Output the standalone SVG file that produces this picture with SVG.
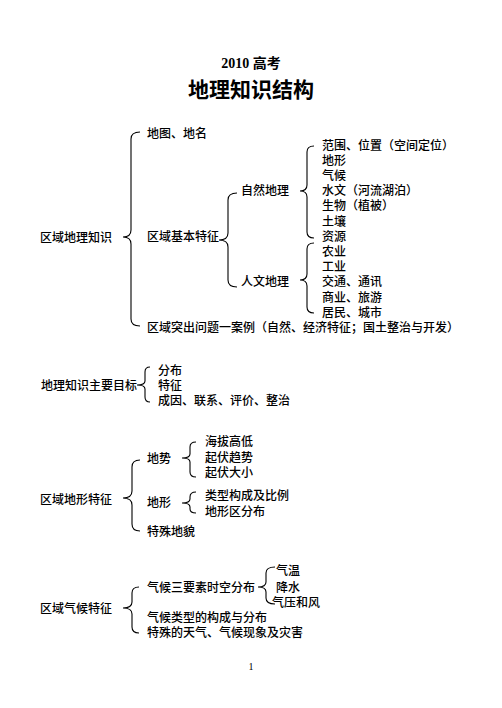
<svg xmlns="http://www.w3.org/2000/svg" width="502" height="708" viewBox="0 0 502 708">
<style>
text{font-family:"Liberation Sans","Noto Sans CJK SC",sans-serif;font-size:12px;font-weight:500;fill:#000}
.t1{font-family:"Liberation Serif","Noto Sans CJK SC",serif;font-size:14px;font-weight:bold}
.t2{font-size:21px;font-weight:bold}
.pn{font-family:"Liberation Serif",serif;font-size:10px;font-weight:normal}
.br{fill:none;stroke:#000;stroke-width:1.1}
</style>
<rect width="502" height="708" fill="#fff"/>
<g id="title">
<text class="t1" x="251" y="68" text-anchor="middle">2010 高考</text>
<text class="t2" x="251" y="97" text-anchor="middle">地理知识结构</text>
</g>
<g id="connectors">
<path class="br" d="M140,132 Q131,132 131,139 L131,230 Q131,237 123,237 Q131,237 131,244 L131,319 Q131,326 140,326"/>
<path class="br" d="M237,193 Q228,193 228,200 L228,233 Q228,240 219,240 Q228,240 228,247 L228,280 Q228,287 237,287"/>
<path class="br" d="M314,146 Q307,146 307,152 L307,185 Q307,191 300,191 Q307,191 307,197 L307,232 Q307,238 314,238"/>
<path class="br" d="M314,243 Q307,243 307,249 L307,274 Q307,280 300,280 Q307,280 307,286 L307,307 Q307,313 314,313"/>
<path class="br" d="M150,367 Q145,367 145,372 L145,381 Q145,385 137,385 Q145,385 145,389 L145,397 Q145,402 150,402"/>
<path class="br" d="M140,460 Q132,460 132,467 L132,491 Q132,498 123,498 Q132,498 132,505 L132,524 Q132,531 140,531"/>
<path class="br" d="M196,442 Q190,442 190,447 L190,454 Q190,458 182,458 Q190,458 190,462 L190,472 Q190,477 196,477"/>
<path class="br" d="M196,492 Q190,492 190,497 L190,499 Q190,503 182,503 Q190,503 190,507 L190,509 Q190,513 196,513"/>
<path class="br" d="M139,587 Q132,587 132,593 L132,602 Q132,608 123,608 Q132,608 132,614 L132,627 Q132,633 139,633"/>
<path class="br" d="M275,567 Q266,567 266,573 L266,582 Q266,587 258,587 Q266,587 266,592 L266,598 Q266,604 275,604"/>
</g>
<g id="n-region">
<text x="40" y="241.5">区域地理知识</text>
<text x="147" y="137.5">地图、地名</text>
<text x="147" y="241">区域基本特征</text>
<text x="147" y="332">区域突出问题一案例（自然、经济特征；国土整治与开发）</text>
</g>
<g id="n-nature">
<text x="241" y="195">自然地理</text>
<text x="322" y="149.5">范围、位置（空间定位）</text>
<text x="322" y="164.7">地形</text>
<text x="322" y="179.9">气候</text>
<text x="322" y="195.1">水文（河流湖泊）</text>
<text x="322" y="210.3">生物（植被）</text>
<text x="322" y="225.5">土壤</text>
<text x="322" y="240.7">资源</text>
</g>
<g id="n-human">
<text x="241" y="286.3">人文地理</text>
<text x="322" y="255.9">农业</text>
<text x="322" y="271.1">工业</text>
<text x="322" y="286.3">交通、通讯</text>
<text x="322" y="301.5">商业、旅游</text>
<text x="322" y="316.7">居民、城市</text>
</g>
<g id="n-goal">
<text x="41" y="389.5">地理知识主要目标</text>
<text x="158" y="374.5">分布</text>
<text x="158" y="389.5">特征</text>
<text x="158" y="404.5">成因、联系、评价、整治</text>
</g>
<g id="n-landform">
<text x="40" y="503.5">区域地形特征</text>
<text x="147" y="462.5">地势</text>
<text x="205" y="445.5">海拔高低</text>
<text x="205" y="461.5">起伏趋势</text>
<text x="205" y="476.5">起伏大小</text>
<text x="147" y="506.5">地形</text>
<text x="205" y="500">类型构成及比例</text>
<text x="205" y="515.5">地形区分布</text>
<text x="147" y="535.5">特殊地貌</text>
</g>
<g id="n-climate">
<text x="40" y="612.5">区域气候特征</text>
<text x="147" y="591.5">气候三要素时空分布</text>
<text x="276" y="574.5">气温</text>
<text x="276" y="591.5">降水</text>
<text x="272" y="606.5">气压和风</text>
<text x="147" y="621.5">气候类型的构成与分布</text>
<text x="147" y="636.5">特殊的天气、气候现象及灾害</text>
</g>
<g id="page">
<text class="pn" x="251" y="670" text-anchor="middle">1</text>
</g>
</svg>
